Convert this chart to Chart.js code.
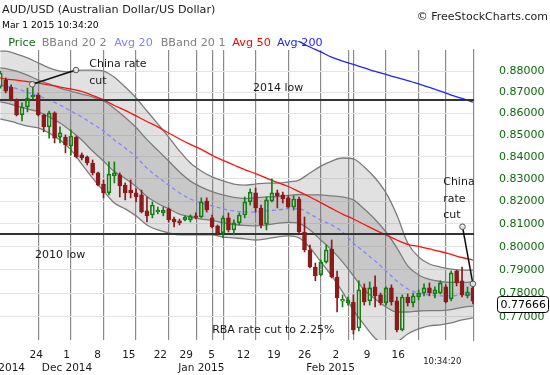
<!DOCTYPE html>
<html>
<head>
<meta charset="utf-8">
<script src="https://cdn.jsdelivr.net/npm/chart.js@4.4.1/dist/chart.umd.min.js"></script>
<style>
  html, body { margin: 0; padding: 0; background: #fff; }
  #wrap { position: relative; width: 550px; height: 375px; overflow: hidden; font-family: "DejaVu Sans", sans-serif; }
  #wrap canvas { position: absolute; left: 0; top: 0; }
  .t { position: absolute; white-space: nowrap; }
</style>
</head>
<body>
<div id="wrap">
  <canvas id="audChart" width="550" height="375"></canvas>
  <div class="t" style="left:2px;top:3px;font-size:11.2px;line-height:14px;color:#222">AUD/USD (Australian Dollar/US Dollar)</div>
  <div class="t" style="left:2px;top:19px;font-size:9.2px;line-height:12px;color:#000">Mar 1 2015 10:34:20</div>
  <div class="t" style="right:2px;top:10px;font-size:11px;line-height:14px;color:#222">© FreeStockCharts.com</div>
  <div id="legend"></div>
</div>
<script>
// daily candles, one slot per session (Sunday sessions included), slot 0 = Mon Nov 24 2014
const firstSlot = -7;
const opens = [
  0.8725,0.8758,0.8725,0.8664,0.8594,0.8631,0.8678,
  0.8687,0.8594,0.8538,0.8603,0.8491,0.8491,0.8450,0.8491,0.8409,0.8400,
  0.8372,0.8327,0.8277,0.8237,0.8313,0.8318,0.8272,0.8250,0.8237,0.8228,
  0.8157,0.8139,0.8152,0.8148,0.8166,0.8121,0.8113,0.8117,0.8117,0.8135,
  0.8130,0.8201,0.8126,0.8091,0.8060,0.8126,0.8073,0.8104,0.8139,0.8197,
  0.8237,0.8170,0.8099,0.8201,0.8237,0.8228,0.8215,0.8174,0.8210,0.8064,
  0.7986,0.7912,0.7878,0.7933,0.7990,0.7869,0.7766,0.7759,0.7763,0.7654,
  0.7823,0.7768,0.7827,0.7793,0.7759,0.7823,0.7768,0.7646,0.7784,0.7759,
  0.7784,0.7801,0.7823,0.7797,0.7801,0.7827,0.7776,0.7895,0.7853,0.7789,0.7823
];
const highs = [
  0.8801,0.8768,0.8735,0.8669,0.8650,0.8720,0.8730,
  0.8697,0.8598,0.8612,0.8608,0.8538,0.8501,0.8524,0.8496,0.8418,0.8404,
  0.8386,0.8331,0.8295,0.8377,0.8377,0.8327,0.8282,0.8295,0.8255,0.8250,
  0.8219,0.8197,0.8174,0.8174,0.8170,0.8130,0.8121,0.8135,0.8139,0.8148,
  0.8215,0.8215,0.8139,0.8095,0.8135,0.8148,0.8117,0.8148,0.8219,0.8255,
  0.8259,0.8183,0.8219,0.8300,0.8250,0.8241,0.8224,0.8224,0.8219,0.8130,
  0.8007,0.7929,0.7942,0.8007,0.8029,0.7895,0.7793,0.7784,0.7793,0.7853,
  0.7840,0.7848,0.7874,0.7801,0.7827,0.7836,0.7784,0.7793,0.7797,0.7801,
  0.7814,0.7840,0.7844,0.7827,0.7853,0.7836,0.7895,0.7899,0.7912,0.7827,0.7831
];
const lows = [
  0.8720,0.8697,0.8659,0.8589,0.8566,0.8608,0.8669,
  0.8589,0.8515,0.8486,0.8464,0.8464,0.8418,0.8409,0.8395,0.8386,0.8363,
  0.8318,0.8268,0.8215,0.8228,0.8282,0.8219,0.8206,0.8215,0.8197,0.8148,
  0.8108,0.8126,0.8144,0.8135,0.8108,0.8086,0.8095,0.8113,0.8108,0.8121,
  0.8126,0.8152,0.8082,0.8051,0.8038,0.8064,0.8051,0.8095,0.8126,0.8183,
  0.8152,0.8082,0.8073,0.8197,0.8170,0.8192,0.8170,0.8161,0.8060,0.7977,
  0.7908,0.7853,0.7874,0.7929,0.7865,0.7721,0.7742,0.7750,0.7629,0.7642,
  0.7750,0.7750,0.7742,0.7750,0.7750,0.7750,0.7638,0.7642,0.7746,0.7742,
  0.7772,0.7789,0.7789,0.7780,0.7797,0.7759,0.7768,0.7831,0.7784,0.7780,0.7755
];
const closes = [
  0.8792,0.8706,0.8664,0.8594,0.8631,0.8673,0.8687,
  0.8594,0.8538,0.8603,0.8486,0.8510,0.8455,0.8496,0.8400,0.8395,0.8372,
  0.8327,0.8272,0.8237,0.8322,0.8327,0.8268,0.8237,0.8237,0.8219,0.8152,
  0.8135,0.8183,0.8161,0.8161,0.8117,0.8108,0.8104,0.8130,0.8135,0.8128,
  0.8197,0.8161,0.8086,0.8060,0.8126,0.8073,0.8104,0.8139,0.8197,0.8241,
  0.8170,0.8095,0.8206,0.8237,0.8224,0.8210,0.8174,0.8210,0.8064,0.7986,
  0.7912,0.7874,0.7933,0.7986,0.7869,0.7780,0.7774,0.7772,0.7646,0.7814,
  0.7763,0.7823,0.7789,0.7759,0.7823,0.7763,0.7646,0.7784,0.7759,0.7789,
  0.7801,0.7823,0.7801,0.7814,0.7844,0.7763,0.7887,0.7844,0.7793,0.7806,0.7767
];

// indicator readings (every second slot)
const bandSlots = [-7,-6,-4,-2,0,2,4,6,8,10,12,14,16,18,20,22,24,26,28,30,32,34,36,38,40,42,44,46,48,50,52,54,56,58,60,62,64,66,68,70,72,74,76,78,80];
const bbUpper2 = [0.8897,0.8897,0.8883,0.8864,0.8840,0.8816,0.8801,0.8797,0.8806,0.8806,0.8801,0.8772,0.8725,0.8673,0.8612,0.8552,0.8491,0.8427,0.8372,0.8336,0.8309,0.8291,0.8277,0.8272,0.8277,0.8281,0.8281,0.8286,0.8295,0.8327,0.8358,0.8381,0.8395,0.8391,0.8354,0.8304,0.8237,0.8139,0.8016,0.7955,0.7925,0.7912,0.7903,0.7899,0.7899];
const bbUpper1 = [0.8816,0.8813,0.8801,0.8782,0.8758,0.8740,0.8720,0.8706,0.8692,0.8678,0.8659,0.8624,0.8582,0.8535,0.8479,0.8430,0.8381,0.8331,0.8290,0.8263,0.8243,0.8228,0.8217,0.8212,0.8215,0.8219,0.8221,0.8226,0.8230,0.8228,0.8228,0.8224,0.8219,0.8206,0.8165,0.8119,0.8064,0.7995,0.7917,0.7878,0.7859,0.7850,0.7846,0.7846,0.7848];
const avg20 = [0.8735,0.8730,0.8718,0.8701,0.8683,0.8664,0.8640,0.8612,0.8584,0.8552,0.8519,0.8477,0.8441,0.8400,0.8349,0.8309,0.8272,0.8237,0.8210,0.8192,0.8179,0.8166,0.8157,0.8152,0.8152,0.8157,0.8161,0.8166,0.8166,0.8143,0.8117,0.8095,0.8064,0.8016,0.7977,0.7938,0.7895,0.7852,0.7818,0.7801,0.7793,0.7789,0.7789,0.7793,0.7797];
const bbLower1 = [0.8655,0.8650,0.8636,0.8622,0.8608,0.8584,0.8556,0.8519,0.8477,0.8427,0.8381,0.8333,0.8302,0.8266,0.8221,0.8190,0.8166,0.8143,0.8130,0.8121,0.8115,0.8104,0.8097,0.8093,0.8091,0.8095,0.8102,0.8106,0.8102,0.8073,0.8029,0.7986,0.7934,0.7874,0.7814,0.7776,0.7742,0.7721,0.7721,0.7725,0.7727,0.7727,0.7731,0.7740,0.7746];
const bbLower2 = [0.8575,0.8570,0.8556,0.8542,0.8533,0.8510,0.8477,0.8432,0.8367,0.8304,0.8246,0.8192,0.8166,0.8135,0.8095,0.8073,0.8060,0.8051,0.8051,0.8051,0.8051,0.8042,0.8038,0.8034,0.8029,0.8034,0.8042,0.8047,0.8038,0.7995,0.7934,0.7874,0.7806,0.7729,0.7667,0.7612,0.7588,0.7596,0.7629,0.7650,0.7663,0.7667,0.7675,0.7688,0.7696];
const avg50 = [0.8768,0.8763,0.8758,0.8751,0.8744,0.8735,0.8725,0.8716,0.8704,0.8685,0.8664,0.8638,0.8615,0.8589,0.8563,0.8538,0.8510,0.8482,0.8457,0.8434,0.8407,0.8384,0.8363,0.8342,0.8324,0.8304,0.8284,0.8266,0.8243,0.8219,0.8194,0.8168,0.8143,0.8121,0.8097,0.8073,0.8051,0.8029,0.8010,0.8001,0.7990,0.7979,0.7966,0.7953,0.7942];
const avg200Slots = [44,46,48,50,52,54,56,58,60,62,64,66,68,70,72,74,76,78,80];
const avg200 = [0.8995,0.8968,0.8944,0.8917,0.8893,0.8868,0.8849,0.8833,0.8816,0.8799,0.8785,0.8770,0.8756,0.8740,0.8723,0.8706,0.8687,0.8671,0.8654];

// support levels
const levelValues = [0.8664, 0.8055];

// axes
const weekLines = [0, 6, 12, 18, 24, 29.2, 32, 34.1, 40, 46, 52, 57.1, 58, 64, 70, 75];
const dayTickSlots = [-0.37, 5.23, 10.9, 16.67, 22.47, 27.24, 31.9, 37.75, 43.37, 49.02, 54.79, 60.5, 66.24];
const dayLabels = ["24", "1", "8", "15", "22", "29", "5", "12", "19", "26", "2", "9", "16"];
const monthSlots = [-7.1, 5.29, 30.0, 53.8];
const monthLabels = ["Nov 2014", "Dec 2014", "Jan 2015", "Feb 2015"];
const priceTicks = [0.77, 0.78, 0.79, 0.80, 0.81, 0.82, 0.83, 0.84, 0.85, 0.86, 0.87, 0.88];
const lastPrice = 0.77666;
const xMin = -7.05, xMax = 80.2;
const yMin = 0.76043, yMax = 0.89024;

const notes = [
	{ lines: ["China rate", "cut"], at: [9.39, 0.8833], from: [-1.1, 0.8738], to: [6.94, 0.8806] },
	{ lines: ["China", "rate", "cut"], at: [74.53, 0.8284], from: [80, 0.7840], to: [78.08, 0.8087] },
	{ lines: ["2014 low"], at: [39.5, 0.8720] },
	{ lines: ["2010 low"], at: [-0.6, 0.7964] },
	{ lines: ["RBA rate cut to 2.25%"], at: [32.0, 0.7646] },
];

const legendItems = [
	["Price", "#0f6e0f", 8.3],
	["BBand 20 2", "#808080", 41.7],
	["Avg 20", "#8080ff", 114.3],
	["BBand 20 1", "#808080", 160.7],
	["Avg 50", "#ff0000", 232.3],
	["Avg 200", "#2323ff", 277],
];

const FONT = '"DejaVu Sans", sans-serif';

// legend row
const legendEl = document.getElementById("legend");
legendItems.forEach(([label, color, left]) => {
	const span = document.createElement("div");
	span.className = "t";
	span.style.cssText = `left:${left}px;top:35.5px;font-size:11.2px;line-height:14px;color:${color}`;
	span.textContent = label;
	legendEl.appendChild(span);
});

const upColor = "#137f13";
const downColor = "#8b1a1a";
const candleColors = closes.map((c, i) => (c >= opens[i] ? upColor : downColor));
const slots = opens.map((_, i) => firstSlot + i);

function bandLine(values, xs, color, extra) {
	return Object.assign(
		{
			type: "line",
			data: xs.map((s, i) => ({ x: s, y: values[i] })),
			borderColor: color,
			borderWidth: 1.3,
			pointRadius: 0,
			cubicInterpolationMode: "monotone",
			fill: false,
		},
		extra
	);
}

const outerFill = "rgba(120,120,120,0.22)";
const innerFill = "rgba(120,120,120,0.24)";

const datasets = [
	bandLine(bbUpper2, bandSlots, "#7c7c7c", { order: 10, fill: { target: 1, above: outerFill, below: outerFill } }),
	bandLine(bbLower2, bandSlots, "#7c7c7c", { order: 10 }),
	bandLine(bbUpper1, bandSlots, "#7c7c7c", { order: 9, fill: { target: 3, above: innerFill, below: innerFill } }),
	bandLine(bbLower1, bandSlots, "#7c7c7c", { order: 9 }),
	bandLine(avg20, bandSlots, "#8585ff", { order: 5, borderDash: [4, 3] }),
	bandLine(avg50, bandSlots, "#ff1010", { order: 4 }),
	bandLine(avg200, avg200Slots, "#2323ff", { order: 4, clip: { left: 0, top: 9, right: 0, bottom: 0 } }),
];

levelValues.forEach((lvl) => {
	datasets.push({
		type: "line",
		data: [{ x: xMin, y: lvl }, { x: xMax, y: lvl }],
		borderColor: "#333",
		borderWidth: 2,
		pointRadius: 0,
		order: 3,
	});
});

// wicks above and below the body, then the bodies
datasets.push({
	type: "bar",
	data: slots.map((s, i) => ({ x: s, y: [Math.max(opens[i], closes[i]), highs[i]] })),
	backgroundColor: candleColors,
	borderWidth: 0,
	barThickness: 1,
	grouped: false,
	order: 1,
});
datasets.push({
	type: "bar",
	data: slots.map((s, i) => ({ x: s, y: [lows[i], Math.min(opens[i], closes[i])] })),
	backgroundColor: candleColors,
	borderWidth: 0,
	barThickness: 1,
	grouped: false,
	order: 1,
});
datasets.push({
	type: "bar",
	data: slots.map((s, i) => ({ x: s, y: [opens[i], closes[i]] })),
	backgroundColor: candleColors.map((c) => (c === upColor ? "rgba(0,0,0,0)" : downColor)),
	borderColor: candleColors,
	borderWidth: 1,
	borderSkipped: false,
	barThickness: 4,
	minBarLength: 1,
	grouped: false,
	order: 0,
});

// annotations, price tag and month row
const notesPlugin = {
	id: "notes",
	afterDatasetsDraw(chart) {
		const { ctx, scales } = chart;
		const x = scales.x, y = scales.y;
		ctx.save();
		notes.forEach((n) => {
			if (n.from) {
				const x1 = x.getPixelForValue(n.from[0]), y1 = y.getPixelForValue(n.from[1]);
				const x2 = x.getPixelForValue(n.to[0]), y2 = y.getPixelForValue(n.to[1]);
				ctx.strokeStyle = "#111";
				ctx.lineWidth = 1.5;
				ctx.beginPath();
				ctx.moveTo(x1, y1);
				ctx.lineTo(x2, y2);
				ctx.stroke();
				[[x1, y1], [x2, y2]].forEach(([cx, cy]) => {
					ctx.beginPath();
					ctx.arc(cx, cy, 2.8, 0, Math.PI * 2);
					ctx.fillStyle = "rgba(235,235,235,0.9)";
					ctx.fill();
					ctx.lineWidth = 1;
					ctx.strokeStyle = "#555";
					ctx.stroke();
				});
			}
			ctx.font = "11px " + FONT;
			ctx.fillStyle = "#1a1a1a";
			ctx.textAlign = "left";
			ctx.textBaseline = "middle";
			const tx = x.getPixelForValue(n.at[0]);
			const ty = y.getPixelForValue(n.at[1]);
			n.lines.forEach((line, k) => ctx.fillText(line, tx, ty + k * 16.5));
		});
		ctx.restore();
	},
	afterDraw(chart) {
		const { ctx, scales, chartArea } = chart;
		const x = scales.x, y = scales.y;
		ctx.save();
		// month names under the day numbers
		ctx.font = "10.5px " + FONT;
		ctx.fillStyle = "#1a1a1a";
		ctx.textAlign = "center";
		ctx.textBaseline = "middle";
		monthLabels.forEach((m, i) => ctx.fillText(m, x.getPixelForValue(monthSlots[i]), chartArea.bottom + 28));
		ctx.font = "8.5px " + FONT;
		ctx.fillText("10:34:20", x.getPixelForValue(74.35), chartArea.bottom + 22);

		// last price tag
		const py = y.getPixelForValue(lastPrice) + 3;
		const bx = 497.5, bw = 51, bh = 16, r = 3;
		const by = Math.round(py - bh / 2) + 0.5;
		ctx.beginPath();
		ctx.moveTo(bx + r, by);
		ctx.lineTo(bx + bw - r, by);
		ctx.arcTo(bx + bw, by, bx + bw, by + r, r);
		ctx.lineTo(bx + bw, by + bh - r);
		ctx.arcTo(bx + bw, by + bh, bx + bw - r, by + bh, r);
		ctx.lineTo(bx + r, by + bh);
		ctx.arcTo(bx, by + bh, bx, by + bh - r, r);
		ctx.lineTo(bx, by + r);
		ctx.arcTo(bx, by, bx + r, by, r);
		ctx.closePath();
		ctx.fillStyle = "#fff";
		ctx.fill();
		ctx.strokeStyle = "#000";
		ctx.lineWidth = 1;
		ctx.stroke();
		ctx.font = "11px " + FONT;
		ctx.fillStyle = "#000";
		ctx.textAlign = "left";
		ctx.fillText(lastPrice.toFixed(5), bx + 3, by + bh / 2 + 0.5);
		ctx.restore();
	},
};

const audChart = new Chart(document.getElementById("audChart"), {
	type: "bar",
	data: { datasets },
	plugins: [notesPlugin],
	options: {
		responsive: false,
		animation: false,
		devicePixelRatio: 1,
		layout: { padding: { top: 50, left: 0, right: 0, bottom: 0 } },
		plugins: { legend: { display: false }, tooltip: { enabled: false } },
		scales: {
			x: {
				type: "linear",
				position: "bottom",
				min: xMin,
				max: xMax,
				offset: false,
				afterBuildTicks: (axis) => {
					axis.ticks = weekLines.map((v) => ({ value: v }));
				},
				afterFit: (axis) => {
					axis.height = 0;
				},
				ticks: { display: false },
				grid: { offset: false, color: "#8a8a8a", lineWidth: 1.2, drawTicks: false },
				border: { display: false },
			},
			x2: {
				type: "linear",
				position: "bottom",
				min: xMin,
				max: xMax,
				offset: false,
				afterBuildTicks: (axis) => {
					axis.ticks = dayTickSlots.map((v) => ({ value: v }));
				},
				afterFit: (axis) => {
					axis.height = 35;
				},
				ticks: {
					autoSkip: false,
					maxRotation: 0,
					padding: 9,
					color: "#1a1a1a",
					font: { family: FONT, size: 10.5 },
					callback: (v, i) => dayLabels[i],
				},
				grid: { display: false, drawTicks: false, offset: false },
				border: { display: false },
			},
			y: {
				type: "logarithmic",
				position: "right",
				min: yMin,
				max: yMax,
				beginAtZero: false,
				afterBuildTicks: (axis) => {
					axis.ticks = priceTicks.map((v) => ({ value: v }));
				},
				afterFit: (axis) => {
					axis.width = 76;
				},
				ticks: {
					padding: 25,
					color: "#0b6b0b",
					font: { family: FONT, size: 11 },
					callback: (v) => Number(v).toFixed(5),
				},
				grid: { color: "#e4e4e4", lineWidth: 1, drawTicks: false },
				border: { display: true, color: "#8a8a8a", width: 1.2 },
			},
		},
	},
});
</script>
</body>
</html>
